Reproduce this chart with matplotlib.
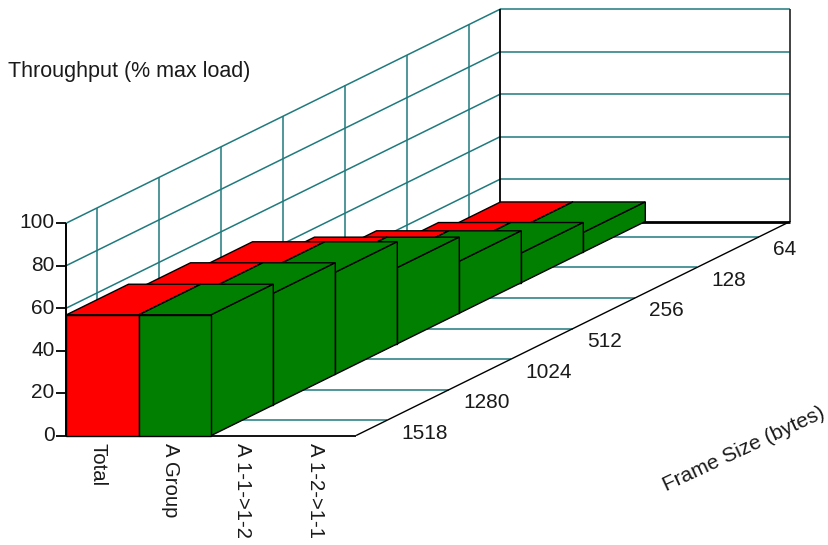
import matplotlib
matplotlib.use("Agg")
import matplotlib.pyplot as plt
from matplotlib.patches import Polygon

plt.rcParams['font.family'] = ['Liberation Sans', 'DejaVu Sans']

categories = ['Total', 'A Group', 'A 1-1->1-2', 'A 1-2->1-1']
frame_sizes = ['1518', '1280', '1024', '512', '256', '128', '64']
total = [56.8, 52.5, 48.0, 35.8, 24.4, 13.9, 9.2]
a_group = [56.8, 52.5, 48.0, 35.8, 24.4, 13.9, 9.2]
a_1_2 = [0, 0, 0, 0, 0, 0, 0]
a_2_1 = [0, 0, 0, 0, 0, 0, 0]
series = [total, a_group, a_1_2, a_2_1]
colors = ['#ff0000', '#007f00', '#ff0000', '#007f00']
y_ticks = [0, 20, 40, 60, 80, 100]

# oblique projection, pixels of the picture
X0, Y0 = 66.5, 435.5
CAT_W = 72.4
DEPTH_DX, DEPTH_DY = 62, -30.57
VAL = 2.125
GRID = '#1f7a7e'
TXT = '#1a1a1a'


def proj(cat, depth, val=0):
    return (X0 + cat * CAT_W + depth * DEPTH_DX,
            Y0 + depth * DEPTH_DY - val * VAL)


fig = plt.figure(figsize=(8.29, 5.45), dpi=100)
ax = fig.add_axes([0, 0, 1, 1])
ax.set_xlim(0, 829)
ax.set_ylim(545, 0)
ax.axis('off')

n_cat = len(categories)
n_depth = len(frame_sizes)


def line(a, b, color=GRID, lw=1.1, z=1):
    ax.plot([a[0], b[0]], [a[1], b[1]], color=color, lw=lw, zorder=z,
            solid_capstyle='butt')


# walls
for v in y_ticks[1:]:
    line(proj(0, 0, v), proj(0, n_depth, v))
    line(proj(0, n_depth, v), proj(n_cat, n_depth, v))
for d in range(n_depth):
    line(proj(0, d + 0.5, 0), proj(0, d + 0.5, 100))
    line(proj(0, d + 0.5, 0), proj(n_cat, d + 0.5, 0))

# frame
line(proj(0, n_depth, 0), proj(0, n_depth, 100), 'black', 1.3, 2)
line(proj(n_cat, n_depth, 0), proj(n_cat, n_depth, 100), '#333333', 1.3, 2)
line(proj(0, n_depth, 0), proj(n_cat, n_depth, 0), 'black', 2.0, 2)
line(proj(n_cat, 0, 0), proj(n_cat, n_depth, 0), 'black', 1.0, 2)
line(proj(0, 0, 0), proj(n_cat, 0, 0), 'black', 1.3, 2)
line(proj(0, 0, 0), proj(0, 0, 100), 'black', 1.4, 2)

for v in y_ticks:
    x, y = proj(0, 0, v)
    line((x - 10, y), (x, y), 'black', 1.3, 2)
    ax.text(x - 12, y, str(v), ha='right', va='center', fontsize=15, color=TXT)

# bars, back to front
z = 3
for d in range(n_depth - 1, -1, -1):
    for c in range(n_cat):
        v = series[c][d]
        if v <= 0:
            continue
        faces = [
            [proj(c, d + 1, v), proj(c + 1, d + 1, v), proj(c + 1, d, v), proj(c, d, v)],
            [proj(c + 1, d, 0), proj(c + 1, d + 1, 0), proj(c + 1, d + 1, v), proj(c + 1, d, v)],
            [proj(c, d, 0), proj(c + 1, d, 0), proj(c + 1, d, v), proj(c, d, v)],
        ]
        for f in faces:
            ax.add_patch(Polygon(f, closed=True, facecolor=colors[c], edgecolor='black',
                                 lw=1.0, zorder=z))
        z += 1

# labels
for c, name in enumerate(categories):
    x, y = proj(c + 0.5, 0, 0)
    ax.text(x - 4.5, y + 7.5, name, rotation=-90, ha='center', va='top', fontsize=14.6,
            color=TXT)
for d, name in enumerate(frame_sizes):
    x, y = proj(n_cat, d + 0.5, 0)
    ax.text(x + 14, y + 13, name, ha='left', va='center', fontsize=15, color=TXT)

ax.text(8, 71, 'Throughput (% max load)', ha='left', va='center', fontsize=15.5, color=TXT)
ax.text(666, 491, 'Frame Size (bytes)', rotation=25, rotation_mode='anchor', ha='left',
        va='baseline', fontsize=15, color=TXT)

fig.savefig('out.png', dpi=100)
